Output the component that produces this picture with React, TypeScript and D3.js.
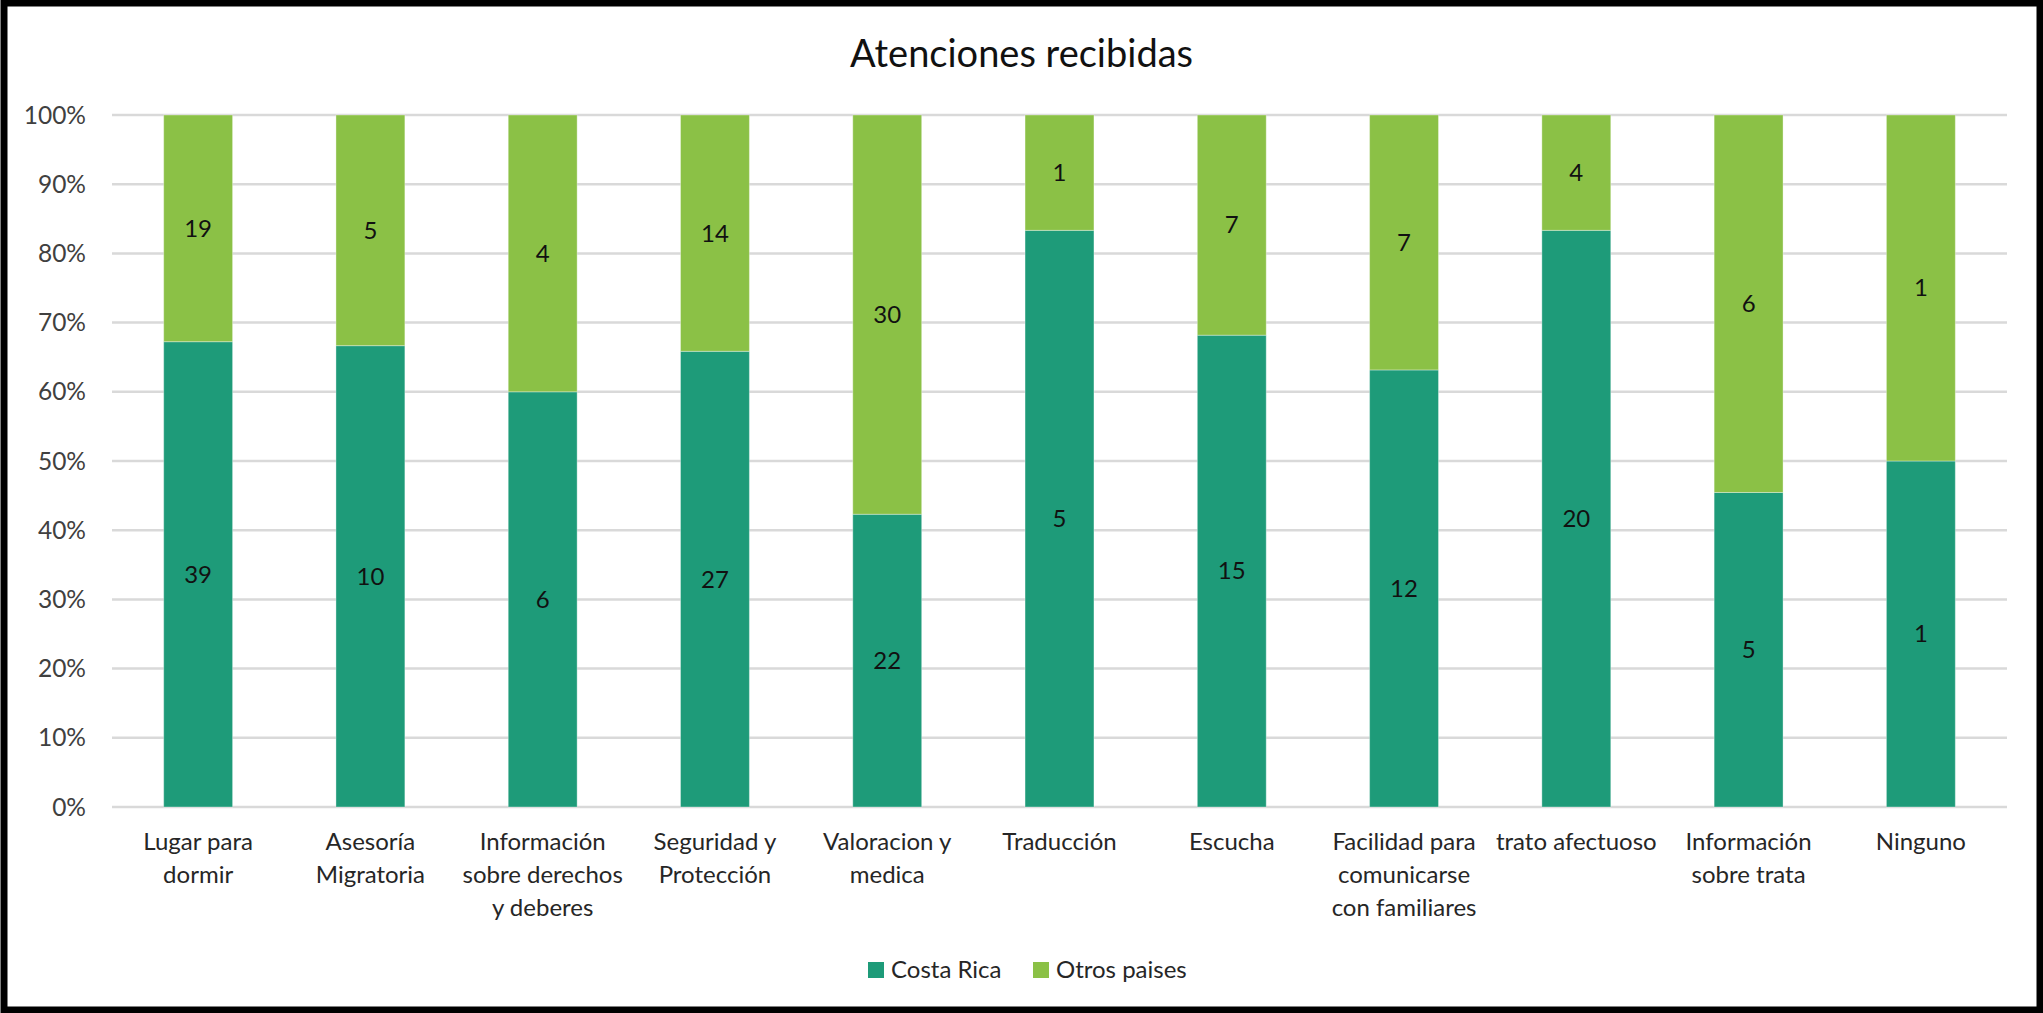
import React from "react";
import * as d3 from "d3";

const categories: string[][] = [
  ["Lugar para", "dormir"],
  ["Asesoría", "Migratoria"],
  ["Información", "sobre derechos", "y deberes"],
  ["Seguridad y", "Protección"],
  ["Valoracion y", "medica"],
  ["Traducción"],
  ["Escucha"],
  ["Facilidad para", "comunicarse", "con familiares"],
  ["trato afectuoso"],
  ["Información", "sobre trata"],
  ["Ninguno"],
];
const costaRica: number[] = [39, 10, 6, 27, 22, 5, 15, 12, 20, 5, 1];
const otrosPaises: number[] = [19, 5, 4, 14, 30, 1, 7, 7, 4, 6, 1];
const yTicks: number[] = [0, 0.1, 0.2, 0.3, 0.4, 0.5, 0.6, 0.7, 0.8, 0.9, 1];
const seriesNames: string[] = ["Costa Rica", "Otros paises"];
const colors: string[] = ["#1E9B79", "#8BC146"];
const title = "Atenciones recibidas";

const W = 2043;
const H = 1013;
const FONT = "Lato, 'Open Sans', sans-serif";

export default function App() {
  const left = 112, right = 2007, top = 115, bottom = 807;
  const x = d3.scaleBand<number>().domain(d3.range(categories.length)).range([left, right]).paddingInner(0.6).paddingOuter(0.3);
  const y = d3.scaleLinear().domain([0, 1]).range([bottom, top]);
  const rows = categories.map((_, i) => ({ i, cr: costaRica[i], ot: otrosPaises[i] }));
  const stack = d3.stack<any>().keys(["cr", "ot"]).offset(d3.stackOffsetExpand);
  const stacked = stack(rows);
  const raw = [costaRica, otrosPaises];
  const fmt = d3.format(".0%");

  return (
    <svg width={W} height={H} style={{ position: "absolute", left: 0, top: 0, background: "#fff" }} fontFamily={FONT}>
      <rect x={0} y={0} width={W} height={H} fill="#fff" />
      {yTicks.map((t) => (
        <g key={t}>
          <line x1={left} x2={right} y1={y(t)} y2={y(t)} stroke="#D9D9D9" strokeWidth={2.5} />
          <text x={86} y={y(t)} dy="0.35em" textAnchor="end" fontSize={24.5} fill="#404040">{fmt(t)}</text>
        </g>
      ))}
      {stacked.map((s, si) => (
        <g key={si}>
          {s.map((d, i) => (
            <g key={i}>
              <rect x={x(i)!} width={x.bandwidth()} y={y(d[1])} height={y(d[0]) - y(d[1])} fill={colors[si]} stroke="#ffffff" strokeOpacity={0.35} strokeWidth={1} />
              <text x={x(i)! + x.bandwidth() / 2} y={(y(d[0]) + y(d[1])) / 2} dy="0.35em" textAnchor="middle" fontSize={24} fill="#111">{raw[si][i]}</text>
            </g>
          ))}
        </g>
      ))}
      {categories.map((lines, i) => (
        <text key={i} x={x(i)! + x.bandwidth() / 2} y={842} textAnchor="middle" fontSize={24} fill="#262626">
          {lines.map((l, j) => (
            <tspan key={j} x={x(i)! + x.bandwidth() / 2} dy={j === 0 ? "0.35em" : 33}>{l}</tspan>
          ))}
        </text>
      ))}
      <text x={W / 2} y={54} dy="0.35em" textAnchor="middle" fontSize={38} fill="#111">{title}</text>
      {seriesNames.map((n, i) => {
        const lx = [868, 1033][i];
        return (
          <g key={n}>
            <rect x={lx} y={962} width={16} height={16} fill={colors[i]} />
            <text x={lx + 23} y={970} dy="0.35em" fontSize={24} fill="#262626">{n}</text>
          </g>
        );
      })}
      <rect x={4} y={3} width={W - 7} height={H - 6} fill="none" stroke="#000" strokeWidth={7} />
    </svg>
  );
}
